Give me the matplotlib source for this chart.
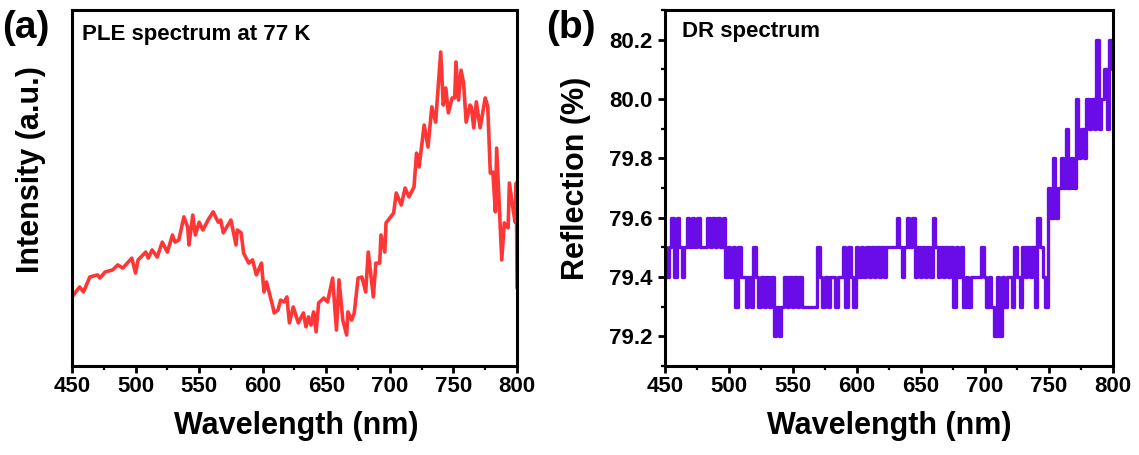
import numpy as np
import matplotlib.pyplot as plt
from matplotlib.ticker import MultipleLocator

plt.rcParams['font.family'] = ['Liberation Sans', 'DejaVu Sans']
plt.rcParams['font.weight'] = 'bold'

# PLE spectrum at 77 K (arbitrary units)
ple_wl = [450, 456, 459, 464, 470, 472, 476, 482, 486, 490, 497, 500, 502, 508, 510,
          513, 517, 521, 525, 529, 531, 534, 538, 541, 542, 545, 547, 550, 553, 557,
          561, 565, 567, 569, 575, 579, 580, 583, 585, 589, 592, 595, 599, 601, 603,
          608, 609, 612, 614, 617, 619, 621, 624, 628, 632, 634, 636, 638, 640, 642,
          644, 648, 651, 655, 658, 660, 663, 666, 667, 670, 672, 675, 678, 681, 683,
          687, 689, 692, 693, 696, 697, 703, 705, 709, 712, 715, 719, 721, 723, 727,
          730, 733, 736, 740, 742, 744, 746, 749, 751, 752, 754, 756, 758, 760, 763,
          764, 766, 768, 771, 775, 777, 779, 781, 783, 784, 788, 790, 793, 794, 797,
          798.5, 799.5, 800]
ple_int = [19.4, 22.2, 20.8, 25.0, 25.6, 24.7, 26.4, 27.0, 28.4, 27.5, 30.3, 26.1, 29.8, 32.0, 30.3,
           32.6, 30.6, 34.8, 32.0, 36.8, 34.8, 35.4, 41.9, 39.0, 34.0, 42.4, 36.8, 40.4, 38.2, 41.0,
           43.3, 40.4, 41.0, 37.4, 41.0, 34.0, 38.2, 37.4, 31.7, 28.9, 29.8, 25.6, 28.9, 20.8, 23.6,
           16.6, 14.9, 15.7, 18.5, 18.0, 19.4, 12.1, 16.6, 12.1, 14.9, 11.0, 13.8, 11.5, 15.2, 9.6,
           17.7, 19.1, 18.0, 24.7, 10.1, 24.2, 12.9, 8.7, 15.2, 12.9, 14.9, 24.7, 25.0, 20.8, 32.0,
           19.4, 28.9, 28.9, 36.8, 32.0, 40.2, 43.0, 48.6, 45.2, 50.0, 47.5, 50.3, 59.8, 55.9, 67.7,
           61.5, 72.8, 68.5, 88.2, 73.3, 78.1, 71.1, 75.3, 75.3, 85.4, 74.7, 83.1, 79.5, 68.5, 73.3,
           72.8, 66.9, 74.2, 66.9, 75.3, 72.8, 54.2, 54.5, 43.3, 61.2, 29.8, 40.2, 38.8, 51.4, 43.8,
           40.4, 51.4, 22.2]

# DR spectrum, 2 nm steps from 450 to 800 nm
dr_wl = np.arange(450, 801, 2)
dr_refl = [
    79.5, 79.4, 79.5, 79.6, 79.4, 79.6, 79.5, 79.4, 79.5, 79.6,  # 450-468
    79.5, 79.6, 79.5, 79.6, 79.5, 79.5, 79.5, 79.6, 79.5, 79.6,  # 470-488
    79.5, 79.6, 79.5, 79.6, 79.4, 79.5, 79.4, 79.5, 79.3, 79.5,  # 490-508
    79.4, 79.4, 79.3, 79.4, 79.3, 79.5, 79.4, 79.3, 79.4, 79.3,  # 510-528
    79.4, 79.3, 79.4, 79.2, 79.3, 79.2, 79.3, 79.4, 79.3, 79.4,  # 530-548
    79.3, 79.4, 79.3, 79.4, 79.3, 79.3, 79.3, 79.3, 79.3, 79.3,  # 550-568
    79.5, 79.4, 79.3, 79.4, 79.3, 79.4, 79.4, 79.3, 79.4, 79.4,  # 570-588
    79.5, 79.3, 79.5, 79.4, 79.3, 79.5, 79.4, 79.5, 79.4, 79.5,  # 590-608
    79.4, 79.5, 79.4, 79.5, 79.4, 79.5, 79.4, 79.5, 79.5, 79.5,  # 610-628
    79.5, 79.6, 79.5, 79.4, 79.5, 79.6, 79.5, 79.6, 79.4, 79.5,  # 630-648
    79.4, 79.5, 79.4, 79.5, 79.4, 79.6, 79.5, 79.4, 79.5, 79.4,  # 650-668
    79.5, 79.4, 79.5, 79.3, 79.5, 79.4, 79.5, 79.3, 79.4, 79.3,  # 670-688
    79.4, 79.4, 79.4, 79.4, 79.5, 79.4, 79.3, 79.4, 79.3, 79.2,  # 690-708
    79.4, 79.2, 79.4, 79.3, 79.4, 79.4, 79.3, 79.5, 79.4, 79.3,  # 710-728
    79.5, 79.4, 79.5, 79.4, 79.5, 79.3, 79.6, 79.5, 79.4, 79.3,  # 730-748
    79.7, 79.6, 79.8, 79.6, 79.7, 79.8, 79.7, 79.9, 79.7, 79.8,  # 750-768
    79.7, 80.0, 79.8, 79.9, 79.8, 80.0, 79.9, 80.0, 79.9, 80.2,  # 770-788
    79.9, 80.0, 80.1, 79.9, 80.2, 80.1,                          # 790-800
]

fig = plt.figure(figsize=(11.39, 4.55), dpi=100)
W, H = 1139, 455

ax1 = fig.add_axes([72 / W, 1 - 366 / H, 445 / W, 356 / H])
ax2 = fig.add_axes([665 / W, 1 - 366 / H, 448 / W, 356 / H])

ax1.plot(ple_wl, ple_int, color='#ff3636', lw=2.6)
ax1.set_ylim(0, 100)
ax1.set_yticks([])

# readings are quantised to 0.1 %, so draw them as steps
ax2.plot(dr_wl, dr_refl, color='#6a0ce8', lw=2.4, drawstyle='steps-mid')
ax2.set_ylim(79.1, 80.3)
ax2.yaxis.set_major_locator(MultipleLocator(0.2))
ax2.yaxis.set_minor_locator(MultipleLocator(0.1))
ax2.yaxis.set_major_formatter(plt.FormatStrFormatter('%.1f'))

for ax in (ax1, ax2):
    ax.set_xlim(450, 800)
    ax.xaxis.set_major_locator(MultipleLocator(50))
    ax.xaxis.set_minor_locator(MultipleLocator(25))
    for s in ax.spines.values():
        s.set_linewidth(2.2)
    ax.tick_params(which='major', direction='out', length=5, width=2,
                   labelsize=16, pad=2)
    ax.tick_params(which='minor', direction='out', length=3, width=1.6)
    ax.tick_params(axis='y', pad=4)
    for lab in ax.get_xticklabels() + ax.get_yticklabels():
        lab.set_fontweight('bold')

# panel texts
ax1.text(82 / W, 1 - 40 / H, 'PLE spectrum at 77 K', transform=fig.transFigure,
         fontsize=16, fontweight='bold', va='baseline', ha='left')
ax2.text(682 / W, 1 - 37 / H, 'DR spectrum', transform=fig.transFigure,
         fontsize=16, fontweight='bold', va='baseline', ha='left')

fig.text(2 / W, 1 - 28 / H, '(a)', fontsize=28, fontweight='bold', va='center', ha='left')
fig.text(546 / W, 1 - 28 / H, '(b)', fontsize=28, fontweight='bold', va='center', ha='left')

fig.text(296 / W, 1 - 426 / H, 'Wavelength (nm)', fontsize=22, fontweight='bold',
         ha='center', va='center')
fig.text(889 / W, 1 - 426 / H, 'Wavelength (nm)', fontsize=22, fontweight='bold',
         ha='center', va='center')
fig.text(31 / W, 1 - 170 / H, 'Intensity (a.u.)', fontsize=22, fontweight='bold',
         rotation=90, ha='center', va='center')
fig.text(576 / W, 1 - 178 / H, 'Reflection (%)', fontsize=22, fontweight='bold',
         rotation=90, ha='center', va='center')

fig.savefig('out.png', dpi=100)
